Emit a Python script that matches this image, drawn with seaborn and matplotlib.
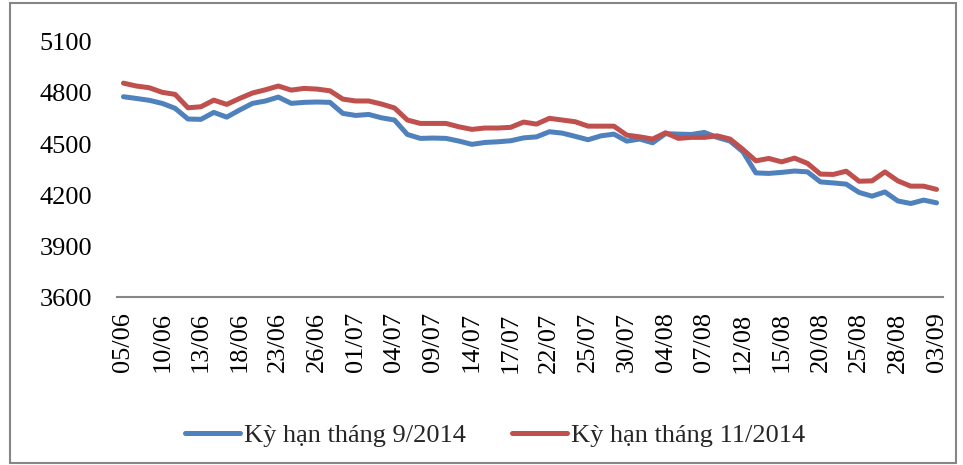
import matplotlib
matplotlib.use("Agg")
import matplotlib.pyplot as plt
import seaborn as sns
import pandas as pd
from matplotlib.patches import Rectangle

dates = ["05/06", "06/06", "09/06", "10/06", "11/06", "12/06", "13/06", "16/06", "17/06", "18/06",
         "19/06", "20/06", "23/06", "24/06", "25/06", "26/06", "27/06", "30/06", "01/07", "02/07",
         "03/07", "04/07", "07/07", "08/07", "09/07", "10/07", "11/07", "14/07", "15/07", "16/07",
         "17/07", "18/07", "21/07", "22/07", "23/07", "24/07", "25/07", "28/07", "29/07", "30/07",
         "31/07", "01/08", "04/08", "05/08", "06/08", "07/08", "08/08", "11/08", "12/08", "13/08",
         "14/08", "15/08", "18/08", "19/08", "20/08", "21/08", "22/08", "25/08", "26/08", "27/08",
         "28/08", "29/08", "01/09", "03/09"]

sep_2014 = [4778, 4768, 4757, 4739, 4710, 4647, 4645, 4686, 4658, 4700,
            4739, 4753, 4776, 4739, 4745, 4747, 4745, 4680, 4668, 4674,
            4654, 4641, 4556, 4533, 4535, 4533, 4517, 4498, 4509, 4513,
            4519, 4536, 4542, 4572, 4564, 4545, 4525, 4548, 4558, 4517,
            4529, 4507, 4561, 4558, 4556, 4568, 4539, 4517, 4454, 4330,
            4327, 4333, 4341, 4336, 4277, 4271, 4264, 4215, 4193, 4218,
            4165, 4150, 4170, 4154]

nov_2014 = [4858, 4841, 4831, 4804, 4792, 4713, 4719, 4758, 4733, 4768,
            4800, 4819, 4841, 4817, 4827, 4823, 4813, 4764, 4753, 4753,
            4735, 4712, 4641, 4621, 4621, 4621, 4601, 4586, 4594, 4594,
            4598, 4629, 4617, 4651, 4641, 4631, 4605, 4605, 4605, 4552,
            4542, 4529, 4566, 4533, 4539, 4539, 4548, 4529, 4468, 4401,
            4415, 4395, 4417, 4386, 4323, 4321, 4340, 4281, 4283, 4336,
            4283, 4252, 4252, 4233]

series_names = ["Kỳ hạn tháng 9/2014", "Kỳ hạn tháng 11/2014"]
colors = ["#4F81BD", "#C0504D"]
yticks = [3600, 3900, 4200, 4500, 4800, 5100]

n = len(dates)
df = pd.DataFrame({
    "idx": list(range(n)) * 2,
    "value": sep_2014 + nov_2014,
    "series": [series_names[0]] * n + [series_names[1]] * n,
})

sns.set_theme(style="white")
plt.rcParams["font.family"] = ["Liberation Serif", "DejaVu Serif"]

fig = plt.figure(figsize=(9.63, 4.65), dpi=100)
ax = fig.add_axes([117 / 963, 1 - 297 / 465, (943 - 117) / 963, (297 - 42) / 465])

sns.lineplot(data=df, x="idx", y="value", hue="series", palette=colors,
             hue_order=series_names, linewidth=3.6, ax=ax, legend=True)

fs = 19
ax.set_xlim(-0.5, n - 0.5)
ax.set_ylim(3600, 5100)
ax.set_yticks(yticks)
ax.set_yticklabels([str(v) for v in yticks], fontsize=fs, color="black")
ax.set_xticks(list(range(0, n, 3)))
ax.set_xticklabels(dates[::3], rotation=90, fontsize=fs, color="black")
ax.tick_params(axis="y", length=0, pad=18)
ax.tick_params(axis="x", length=0, pad=11)
ax.set_xlabel("")
ax.set_ylabel("")
for s in ["left", "right", "top"]:
    ax.spines[s].set_visible(False)
ax.spines["bottom"].set_color("#868686")
ax.spines["bottom"].set_linewidth(1.5)

handles, labels = ax.get_legend_handles_labels()
ax.legend_.remove()
fig.legend(handles, labels, loc="center", bbox_to_anchor=(495 / 963, 1 - 435 / 465),
           ncol=2, frameon=False, fontsize=fs, handlelength=2.1,
           handletextpad=0.15, columnspacing=1.75)

fig.patches.append(Rectangle((10 / 963, 2 / 465), 946 / 963, 460 / 465,
                             transform=fig.transFigure, fill=False,
                             edgecolor="#868686", linewidth=1.5))

fig.savefig("out.png", dpi=100)
